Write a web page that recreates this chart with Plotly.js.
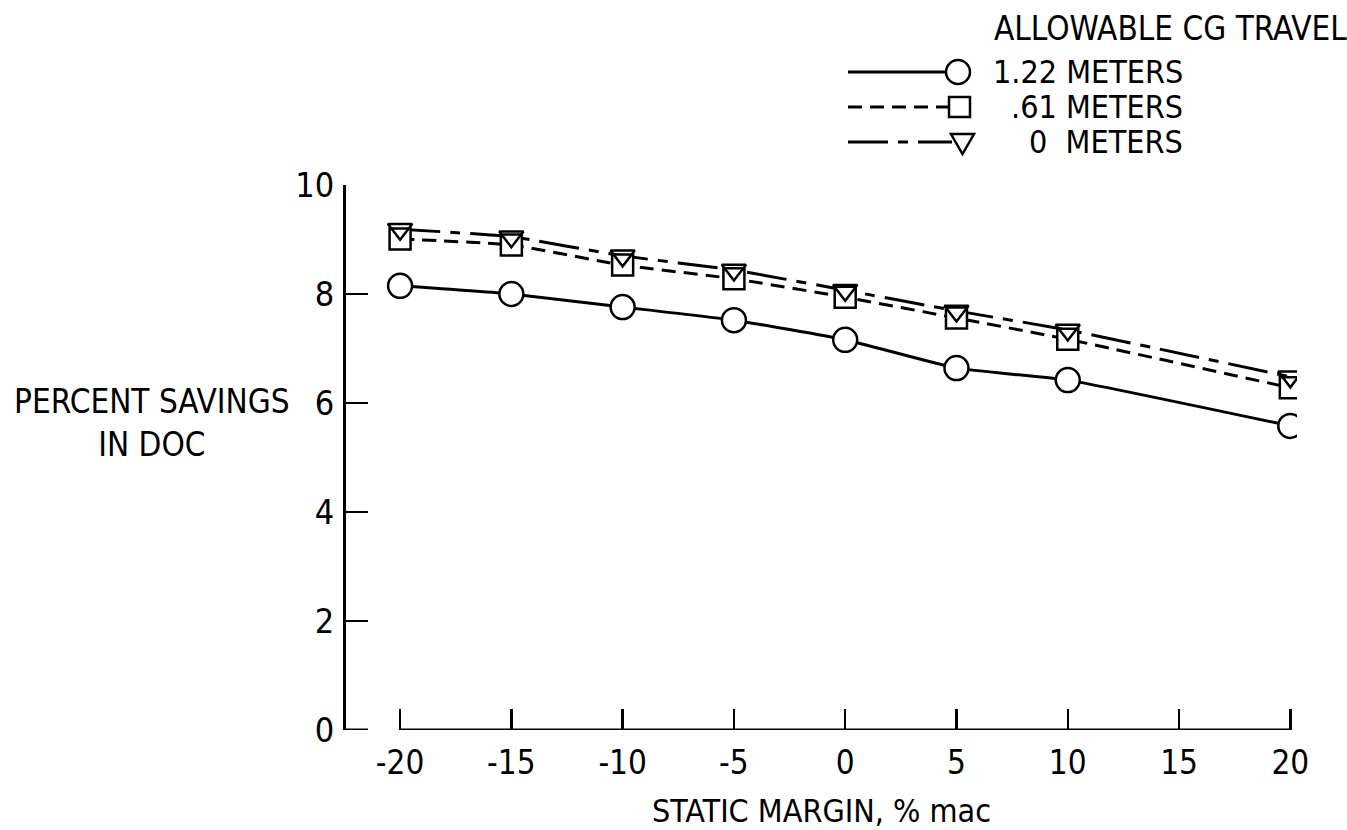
<!DOCTYPE html>
<html>
<head>
<meta charset="utf-8">
<script src="https://cdn.plot.ly/plotly-3.0.1.min.js"></script>
<style>
  html, body { margin: 0; padding: 0; background: #ffffff; }
  #chart { width: 1347px; height: 830px; }
</style>
</head>
<body>
<div id="chart"></div>
<script>
// ---- data ----
const staticMargin = [-20, -15, -10, -5, 0, 5, 10, 20];
const savings122 = [8.15, 8.00, 7.76, 7.52, 7.16, 6.64, 6.42, 5.58];
const savings061 = [9.01, 8.90, 8.53, 8.28, 7.94, 7.56, 7.17, 6.28];
const savings000 = [9.19, 9.05, 8.70, 8.44, 8.07, 7.69, 7.34, 6.48];
const xTickVals = [-20, -15, -10, -5, 0, 5, 10, 15, 20];
const yTickVals = [0, 2, 4, 6, 8, 10];
const seriesLabels = ['1.22 METERS', '.61 METERS', '0\u00A0\u00A0METERS'];
const legendTitle = 'ALLOWABLE CG TRAVEL';
const yTitle = 'PERCENT SAVINGS<br>IN DOC';
const xTitle = 'STATIC MARGIN, % mac';

// ---- styling ----
const FONT = '"Liberation Sans Narrow", "DejaVu Sans Condensed", "Arial Narrow", sans-serif';
const INK = '#000000';
const W = 1347, H = 830;
const M = { l: 346, r: 50, t: 185, b: 100 };
const plotW = W - M.l - M.r, plotH = H - M.t - M.b;
const px = v => (v - M.l) / plotW;      // pixel x -> paper x
const py = v => (H - M.b - v) / plotH;  // pixel y -> paper y

const dashes = ['solid', '14px,8px', '40px,10px,10px,10px'];
const symbols = ['circle', 'square', 'triangle-down'];
const fills = ['#ffffff', '#ffffff', 'rgba(255,255,255,0)'];
const sizes = [24, 21, 21];
const series = [savings122, savings061, savings000];

const traces = [];
series.forEach((ys, i) => {
  traces.push({
    x: staticMargin, y: ys, type: 'scatter', mode: 'lines',
    line: { color: INK, width: 3, dash: dashes[i], shape: 'spline', smoothing: 0.4 },
    showlegend: false, hoverinfo: 'skip'
  });
});
series.forEach((ys, i) => {
  traces.push({
    x: staticMargin, y: ys, type: 'scatter', mode: 'markers',
    marker: { symbol: symbols[i], size: sizes[i], color: fills[i],
              line: { color: INK, width: 2.5 } },
    showlegend: false, name: seriesLabels[i]
  });
});

// ---- custom legend (lines end with the marker, as in the reference) ----
const rowsY = [72, 107, 142];
const shapes = [
  // x axis line only spans the tick range
  { type: 'line', xref: 'x', yref: 'y', x0: xTickVals[0], x1: xTickVals[xTickVals.length - 1],
    y0: yTickVals[0], y1: yTickVals[0], line: { color: INK, width: 3 } },
  // short foot at the bottom of the y axis
  { type: 'line', xref: 'paper', yref: 'y', x0: 0, x1: px(368), y0: 0, y1: 0,
    line: { color: INK, width: 3 } },
  // legend lines
  { type: 'line', xref: 'paper', yref: 'paper', x0: px(848), x1: px(946), y0: py(rowsY[0]), y1: py(rowsY[0]),
    line: { color: INK, width: 3, dash: dashes[0] } },
  { type: 'line', xref: 'paper', yref: 'paper', x0: px(848), x1: px(949), y0: py(rowsY[1]), y1: py(rowsY[1]),
    line: { color: INK, width: 3, dash: dashes[1] } },
  { type: 'line', xref: 'paper', yref: 'paper', x0: px(848), x1: px(952), y0: py(rowsY[2]), y1: py(rowsY[2]),
    line: { color: INK, width: 3, dash: dashes[2] } },
  // legend circle
  { type: 'circle', xref: 'paper', yref: 'paper', x0: px(946), x1: px(970), y0: py(rowsY[0] - 12), y1: py(rowsY[0] + 12),
    fillcolor: '#ffffff', line: { color: INK, width: 2.5 } },
  // legend square
  { type: 'rect', xref: 'paper', yref: 'paper', x0: px(949), x1: px(970), y0: py(rowsY[1] - 10), y1: py(rowsY[1] + 10),
    fillcolor: '#ffffff', line: { color: INK, width: 2.5 } },
  // legend triangle (pointing down)
  { type: 'path', xref: 'paper', yref: 'paper',
    path: 'M ' + px(951) + ' ' + py(rowsY[2] - 8) + ' L ' + px(974) + ' ' + py(rowsY[2] - 8) +
          ' L ' + px(962.5) + ' ' + py(rowsY[2] + 12) + ' Z',
    fillcolor: '#ffffff', line: { color: INK, width: 2.5 } }
];

const annotations = [
  { xref: 'paper', yref: 'paper', x: px(992), y: py(28), xanchor: 'left', yanchor: 'middle',
    text: legendTitle, showarrow: false, font: { family: FONT, size: 33, color: INK } },
  { xref: 'paper', yref: 'paper', x: px(1185), y: py(rowsY[0]), xanchor: 'right', yanchor: 'middle',
    text: seriesLabels[0], showarrow: false, font: { family: FONT, size: 32, color: INK } },
  { xref: 'paper', yref: 'paper', x: px(1185), y: py(rowsY[1]), xanchor: 'right', yanchor: 'middle',
    text: seriesLabels[1], showarrow: false, font: { family: FONT, size: 32, color: INK } },
  { xref: 'paper', yref: 'paper', x: px(1185), y: py(rowsY[2]), xanchor: 'right', yanchor: 'middle',
    text: seriesLabels[2], showarrow: false, font: { family: FONT, size: 32, color: INK } },
  { xref: 'paper', yref: 'paper', x: px(152), y: py(423), xanchor: 'center', yanchor: 'middle',
    text: yTitle, align: 'center', showarrow: false, font: { family: FONT, size: 33, color: INK } }
];

const layout = {
  width: W, height: H,
  margin: M,
  paper_bgcolor: '#ffffff', plot_bgcolor: '#ffffff',
  showlegend: false,
  font: { family: FONT, size: 32, color: INK },
  xaxis: {
    range: [-22.43, 20.3], showgrid: false, zeroline: false, showline: false,
    tickmode: 'array', tickvals: xTickVals, ticktext: xTickVals.map(String),
    ticks: 'inside', ticklen: 21, tickwidth: 2.5, tickcolor: INK,
    ticklabelstandoff: 10,
    tickfont: { family: FONT, size: 33, color: INK },
    title: { text: xTitle, standoff: 18, font: { family: FONT, size: 32, color: INK } }
  },
  yaxis: {
    range: [0, 10], showgrid: false, zeroline: false, showline: true,
    linecolor: INK, linewidth: 3,
    tickmode: 'array', tickvals: yTickVals, ticktext: yTickVals.map(String),
    ticks: 'inside', ticklen: 22, tickwidth: 2.5, tickcolor: INK,
    ticklabelstandoff: 2,
    tickfont: { family: FONT, size: 34, color: INK }
  },
  shapes: shapes,
  annotations: annotations
};

Plotly.newPlot('chart', traces, layout, { staticPlot: true, displayModeBar: false });
</script>
</body>
</html>
